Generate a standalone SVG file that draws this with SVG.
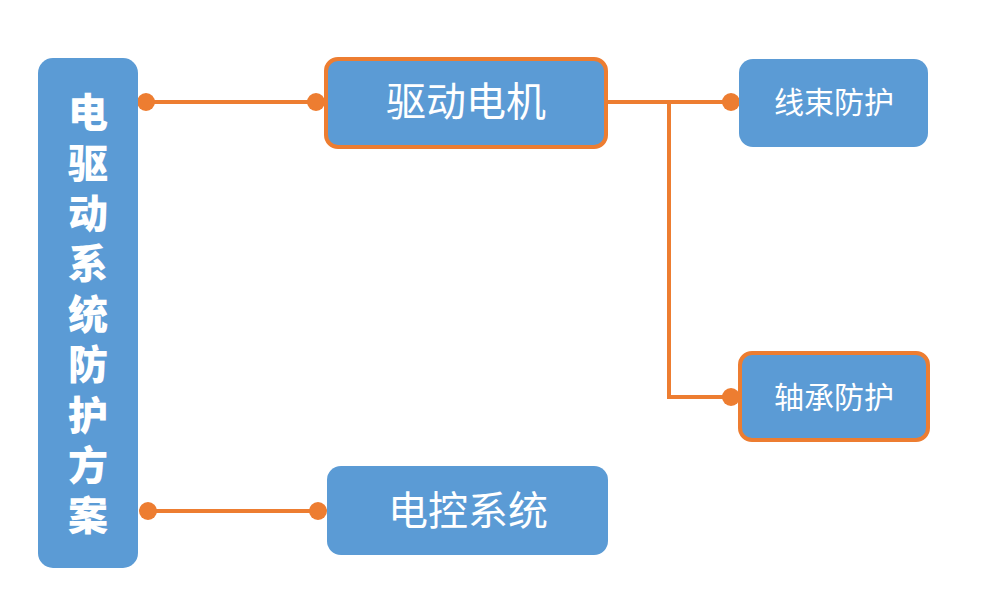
<svg xmlns="http://www.w3.org/2000/svg" width="989" height="608" viewBox="0 0 989 608">
<style>
.box{fill:#5B9BD5}
.hl{stroke:#ED7D31;stroke-width:4}
.ln{stroke:#ED7D31;stroke-width:4;fill:none}
.dot{fill:#ED7D31}
.t{fill:#fff;font-family:"Liberation Serif","Noto Sans CJK SC",serif;text-anchor:middle;dominant-baseline:central}
.v{fill:#fff;font-family:"Noto Sans CJK SC",sans-serif;font-weight:900;font-size:40px;writing-mode:vertical-rl;letter-spacing:10.4px}
</style>
<rect width="989" height="608" fill="#fff"/>
<g id="connectors">
<path class="ln" d="M146 102 H316"/>
<circle class="dot" cx="146" cy="102" r="9"/>
<circle class="dot" cx="316" cy="102" r="9"/>
<path class="ln" d="M148 511 H318"/>
<circle class="dot" cx="148" cy="511" r="9"/>
<circle class="dot" cx="318" cy="511" r="9"/>
<path class="ln" d="M607 102 H731 M669 102 V397 H731"/>
<circle class="dot" cx="731" cy="102" r="9"/>
<circle class="dot" cx="731" cy="397" r="9"/>
</g>
<g id="root">
<rect class="box" x="38" y="58" width="100" height="510" rx="15"/>
<text class="v" x="88" y="92">电驱动系统防护方案</text>
</g>
<g id="motor">
<rect class="box hl" x="326" y="59" width="280" height="88" rx="12"/>
<text class="t" x="466" y="102" font-size="40">驱动电机</text>
</g>
<g id="control">
<rect class="box" x="327" y="466" width="281" height="89" rx="14"/>
<text class="t" x="468" y="511" font-size="40">电控系统</text>
</g>
<g id="harness">
<rect class="box" x="739" y="59" width="189" height="88" rx="14"/>
<text class="t" x="834" y="102" font-size="30">线束防护</text>
</g>
<g id="bearing">
<rect class="box hl" x="740" y="353" width="188" height="87" rx="12"/>
<text class="t" x="834" y="397" font-size="30">轴承防护</text>
</g>
</svg>
